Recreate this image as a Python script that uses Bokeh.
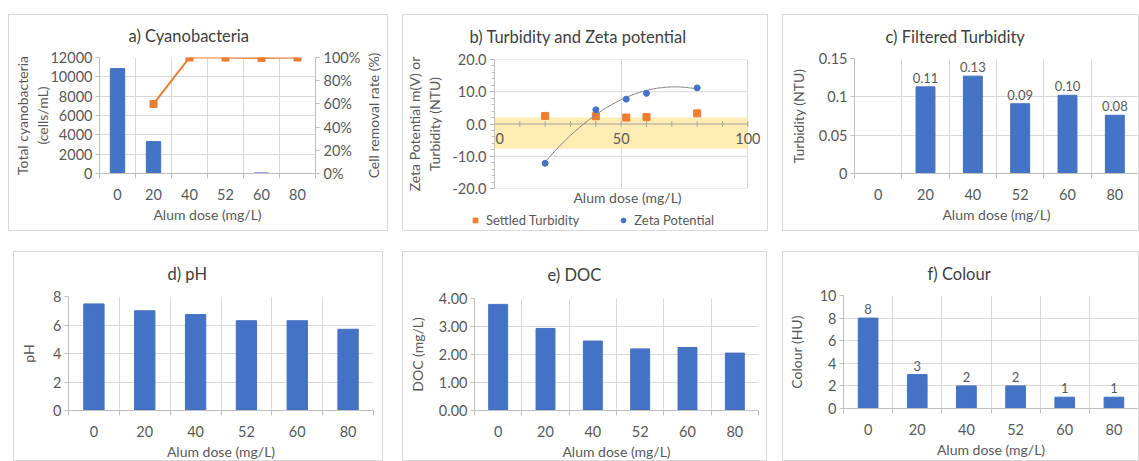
import numpy as np
from bokeh.plotting import figure
from bokeh.models import (Range1d, LinearAxis, FixedTicker, NumeralTickFormatter,
                          Legend, LegendItem, Spacer)
from bokeh.layouts import row, column
from bokeh.embed import file_html
from bokeh.resources import INLINE
from bokeh.core.properties import value

# ---------------- data ----------------
doses = ["0", "20", "40", "52", "60", "80"]

cyano_cells = [10850, 3300, 0, 0, 60, 0]
removal_doses = ["20", "40", "52", "60", "80"]
removal_rate = [0.60, 1.0, 1.0, 0.995, 1.0]
a_yticks = [0, 2000, 4000, 6000, 8000, 10000, 12000]
a_pct_ticks = [0, 0.2, 0.4, 0.6, 0.8, 1.0]

b_doses = [20, 40, 52, 60, 80]
settled_turbidity = [2.5, 2.4, 2.0, 2.2, 3.3]
zeta_potential = [-12.2, 4.4, 7.7, 9.5, 11.2]
zeta_band = [-7.7, 2.0]
b_xticks = [0, 50, 100]
b_xminor = [0, 10, 20, 30, 40, 50, 60, 70, 80, 90, 100]
b_yticks = [-20, -10, 0, 10, 20]
b_yminor = list(range(-20, 21, 2))

turb_doses = ["20", "40", "52", "60", "80"]
filtered_turbidity = [0.113, 0.127, 0.091, 0.102, 0.076]
c_yticks = [0, 0.05, 0.1, 0.15]

ph = [7.48, 7.0, 6.73, 6.3, 6.3, 5.7]
d_yticks = [0, 2, 4, 6, 8]

doc = [3.79, 2.93, 2.48, 2.2, 2.25, 2.05]
e_yticks = [0, 1, 2, 3, 4]

colour = [8, 3, 2, 2, 1, 1]
f_yticks = [0, 2, 4, 6, 8, 10]

# ---------------- style ----------------
FONT = "Lato"
TXT = "#595959"
TITLE_TXT = "#404040"
BLUE = "#4472C4"
ORANGE = "#ED7D31"
GRID = "#D9D9D9"
AXIS = "#BFBFBF"
TICK_FS = "14.5px"
LABEL_FS = "14px"
TITLE_FS = "16.5px"
ALL_SIDES = ("top", "right", "bottom", "left")


def border_styles(sides):
    s = {"box-sizing": "content-box"}
    for side in sides:
        s[f"border-{side}"] = "1px solid #D9D9D9"
    return s


def base_fig(w, h, left, right, top, bottom, x_range, y_range, margin, sides=ALL_SIDES):
    p = figure(width=w, height=h, x_range=x_range, y_range=y_range,
               output_backend="svg", toolbar_location=None,
               min_border_left=left, min_border_right=right,
               min_border_top=top, min_border_bottom=bottom,
               margin=margin, frame_align=False, styles=border_styles(sides))
    p.outline_line_color = None
    p.background_fill_color = "white"
    p.border_fill_color = "white"
    return p


def blank_fig(w, h, margin, sides):
    p = figure(width=w, height=h, x_range=Range1d(0, 1), y_range=Range1d(0, 1),
               x_axis_type=None, y_axis_type=None, output_backend="svg",
               toolbar_location=None, min_border_left=0, min_border_right=0,
               min_border_top=0, min_border_bottom=0, margin=margin, frame_align=False,
               styles=border_styles(sides))
    p.outline_line_color = None
    p.background_fill_color = "white"
    p.border_fill_color = "white"
    return p


def style_axis(ax):
    ax.major_label_text_font = FONT
    ax.major_label_text_font_size = TICK_FS
    ax.major_label_text_color = TXT
    ax.axis_label_text_font = FONT
    ax.axis_label_text_font_size = LABEL_FS
    ax.axis_label_text_font_style = "normal"
    ax.axis_label_text_color = TXT
    ax.axis_line_color = AXIS
    ax.major_tick_line_color = AXIS
    ax.minor_tick_line_color = AXIS


def set_title(p, text, offset, standoff):
    p.title.text = text
    p.title.align = "left"
    p.title.vertical_align = "top"
    p.title.offset = offset
    p.title.standoff = standoff
    p.title.text_font = FONT
    p.title.text_font_size = TITLE_FS
    p.title.text_font_style = "normal"
    p.title.text_color = TITLE_TXT


def bar_panel(w, h, borders, margin, cats, values, yticks, yfmt, ylabel, title, toff,
              labels=None, ylabel_standoff=6, sides=ALL_SIDES):
    n = len(doses)
    pos = {d: i for i, d in enumerate(doses)}
    xs = [pos[c] for c in cats]
    bounds = [i - 0.5 for i in range(n + 1)]
    p = base_fig(w, h, *borders, Range1d(-0.5, n - 0.5),
                 Range1d(yticks[0], yticks[-1]), margin, sides)
    set_title(p, title, toff, borders[2] - 23)
    p.vbar(x=xs, top=values, width=0.4, color=BLUE)
    if labels is not None:
        p.text(x=xs, y=values, text=labels, text_align="center", text_baseline="bottom",
               y_offset=-4, text_font=value(FONT), text_font_size="13px", text_color=TXT)
    xa = p.xaxis[0]
    style_axis(xa)
    xa.ticker = FixedTicker(ticks=list(range(n)), minor_ticks=bounds)
    xa.major_label_overrides = {i: d for i, d in enumerate(doses)}
    xa.major_tick_out = 0
    xa.major_tick_in = 0
    xa.minor_tick_out = 5
    xa.minor_tick_in = 0
    xa.major_label_standoff = 10
    xa.axis_label = "Alum dose (mg/L)"
    xa.axis_label_standoff = 3
    ya = p.yaxis[0]
    style_axis(ya)
    ya.ticker = FixedTicker(ticks=yticks)
    ya.formatter = NumeralTickFormatter(format=yfmt)
    ya.major_tick_out = 4
    ya.major_tick_in = 0
    ya.minor_tick_out = 0
    ya.minor_tick_in = 0
    ya.major_label_standoff = 3
    ya.axis_label = ylabel
    ya.axis_label_standoff = ylabel_standoff
    p.xgrid.ticker = FixedTicker(ticks=bounds)
    p.ygrid.ticker = FixedTicker(ticks=yticks)
    p.xgrid.grid_line_color = GRID
    p.ygrid.grid_line_color = GRID
    return p, pos


# ---------------- a) Cyanobacteria ----------------
pa, pos = bar_panel(353, 215, (90, 47, 42, 59), (0, 0, 0, 8), doses, cyano_cells, a_yticks,
                    "0", "Total cyanobacteria\n(cells/mL)", "a) Cyanobacteria", 29,
                    ylabel_standoff=-4, sides=("top", "bottom", "left"))
pa.extra_y_ranges = {"pct": Range1d(a_pct_ticks[0], a_pct_ticks[-1])}
ra = LinearAxis(y_range_name="pct", ticker=FixedTicker(ticks=a_pct_ticks),
                formatter=NumeralTickFormatter(format="0%"))
style_axis(ra)
ra.major_tick_out = 4
ra.major_tick_in = 0
ra.minor_tick_out = 0
ra.minor_tick_in = 0
ra.major_label_standoff = 4
pa.add_layout(ra, "right")
rx = [pos[c] for c in removal_doses]
pa.line(rx, removal_rate, color=ORANGE, line_width=2, y_range_name="pct")
pa.scatter(rx, removal_rate, marker="square", size=7, color=ORANGE, y_range_name="pct")

# right-hand axis title (reads bottom to top), in a narrow strip of the same panel
pa_lab = blank_fig(25, 215, (0, 0, 0, 0), ("top", "right", "bottom"))
pa_lab.text(x=[0.5], y=[0.5], text=["Cell removal rate (%)"], angle=float(np.pi / 2),
            text_align="center", text_baseline="middle", x_offset=-2.5, y_offset=-8.5,
            text_font=value(FONT), text_font_size=LABEL_FS, text_color=TXT)

# ---------------- b) Turbidity and Zeta potential ----------------
pb = base_fig(364, 192, 88, 9, 44, 20, Range1d(b_xticks[0], b_xticks[-1] * 1.05),
              Range1d(b_yticks[0], b_yticks[-1]), (0, 0, 0, 14),
              ("top", "right", "left"))
set_title(pb, "b)  Turbidity and Zeta potential", -25, 21)
pb.xgrid.ticker = FixedTicker(ticks=b_xticks)
pb.xgrid.grid_line_color = GRID
pb.ygrid.grid_line_color = None
pb.segment(x0=b_xticks[0], x1=b_xticks[-1], y0=b_yticks, y1=b_yticks, line_color=GRID,
           line_width=1)
pb.quad(left=b_xticks[0], right=b_xticks[-1], bottom=zeta_band[0], top=zeta_band[1],
        fill_color="#FFE699", fill_alpha=0.75, line_color=None)
# horizontal axis drawn through y = 0
pb.segment(x0=b_xticks[0], x1=b_xticks[-1], y0=0, y1=0, line_color="#A6A6A6", line_width=1)
pb.scatter(b_xminor, [0] * len(b_xminor), marker="dash", angle=float(np.pi / 2), size=6,
           line_color="#A6A6A6")
b_lab_align = ["left"] + ["center"] * (len(b_xticks) - 1)
pb.text(x=b_xticks, y=[0] * len(b_xticks), text=[f"{t}" for t in b_xticks],
        text_align=b_lab_align, text_baseline="top", x_offset=[1] + [0] * (len(b_xticks) - 1),
        y_offset=9, text_font=value(FONT), text_font_size=TICK_FS, text_color=TXT)
pb.scatter(b_doses, settled_turbidity, marker="square", size=7, color=ORANGE)
coef = np.polyfit(b_doses, zeta_potential, 2)
xx = np.linspace(min(b_doses), max(b_doses), 120)
pb.line(xx.tolist(), np.polyval(coef, xx).tolist(), color="#808080", line_width=1)
pb.scatter(b_doses, zeta_potential, marker="circle", size=6, color=BLUE)
xb = pb.xaxis[0]
style_axis(xb)
xb.ticker = FixedTicker(ticks=[])
xb.axis_line_color = None
xb.major_tick_out = 0
xb.minor_tick_out = 0
xb.major_label_standoff = 0
xb.axis_label = "Alum dose (mg/L)"
xb.axis_label_standoff = 0
yb = pb.yaxis[0]
style_axis(yb)
yb.ticker = FixedTicker(ticks=b_yticks, minor_ticks=b_yminor)
yb.formatter = NumeralTickFormatter(format="0.0")
yb.major_tick_out = 5
yb.major_tick_in = 0
yb.minor_tick_out = 3
yb.minor_tick_in = 0
yb.major_label_standoff = 3
yb.axis_label = "Zeta Potential m(V) or\nTurbidity (NTU)"
yb.axis_label_standoff = 6

# legend strip at the bottom of panel b
pb_leg = blank_fig(364, 23, (0, 0, 0, 14), ("right", "bottom", "left"))
l_turb = pb_leg.scatter(b_doses, settled_turbidity, marker="square", size=7, color=ORANGE)
l_zeta = pb_leg.scatter(b_doses, zeta_potential, marker="circle", size=6, color=BLUE)
leg = Legend(items=[LegendItem(label="Settled Turbidity", renderers=[l_turb]),
                    LegendItem(label="Zeta Potential", renderers=[l_zeta])],
             orientation="horizontal", location=(66, 3), spacing=38,
             border_line_color=None, background_fill_alpha=0, padding=0, margin=0,
             label_standoff=5, label_text_font=FONT, label_text_font_size="13px",
             label_text_color=TXT, glyph_width=12, glyph_height=12)
pb_leg.add_layout(leg)

# ---------------- c) Filtered Turbidity ----------------
c_labels = [f"{v:.2f}" for v in filtered_turbidity]
pc, _ = bar_panel(355, 215, (71, 2, 43, 59), (0, 0, 0, 14), turb_doses, filtered_turbidity,
                  c_yticks, "0.[00]", "Turbidity (NTU)", "c)  Filtered Turbidity", 31,
                  labels=c_labels, ylabel_standoff=9)

# ---------------- d) pH ----------------
pd_, _ = bar_panel(368, 208, (54, 11, 44, 50), (20, 0, 0, 13), doses, ph, d_yticks, "0",
                   "pH", "d) pH", 99, ylabel_standoff=13)

# ---------------- e) DOC ----------------
pe, _ = bar_panel(363, 208, (71, 10, 46, 51), (20, 0, 0, 19), doses, doc, e_yticks, "0.00",
                  "DOC (mg/L)", "e)  DOC", 73, ylabel_standoff=10)

# ---------------- f) Colour ----------------
f_labels = [f"{v:g}" for v in colour]
pf, _ = bar_panel(355, 208, (60, 2, 43, 54), (20, 0, 0, 15), doses, colour, f_yticks, "0",
                  "Colour (HU)", "f) Colour", 84, labels=f_labels, ylabel_standoff=12)

layout = column(
    Spacer(height=14),
    row(pa, pa_lab, column(pb, pb_leg), pc),
    row(pd_, pe, pf),
)

open("out.html", "w").write(file_html(layout, INLINE))
